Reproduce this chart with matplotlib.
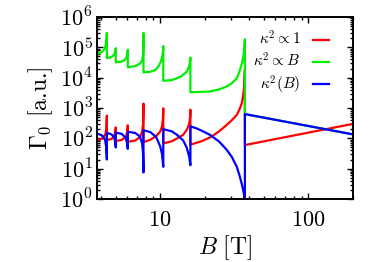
import numpy as np
import matplotlib
matplotlib.use('Agg')
from matplotlib import pyplot as plt
from matplotlib.ticker import LogLocator, FuncFormatter, NullFormatter

# values, segment by segment (drops are vertical)
b_red = [3.75, 4.1, 4.28, 4.34, 4.37,
         4.37, 4.7, 4.9, 4.98, 5.02,
         5.02, 5.5, 5.85, 5.98, 6.05,
         6.05, 6.8, 7.3, 7.55, 7.66, 7.72,
         7.72, 8.6, 9.4, 10.0, 10.3, 10.45, 10.5,
         10.5, 12.0, 13.0, 14.3, 15.2, 15.7, 15.93, 16.0,
         16.0, 19.0, 21.7, 25.0, 28.1, 30.5, 32.9, 34.3, 35.5, 36.2, 36.7, 37.0, 37.3,
         37.3, 200]
g_red = [85, 100, 140, 220, 560,
         88, 95, 120, 160, 230,
         82, 88, 110, 150, 270,
         77, 85, 110, 160, 280, 1400,
         75, 90, 120, 165, 250, 450, 980,
         68, 80, 100, 130, 200, 300, 500, 880,
         62, 80, 107, 170, 275, 400, 590, 900, 1400, 2400, 4000, 7000, 18000,
         60, 300]

b_green = [3.75, 4.0, 4.2, 4.3, 4.35, 4.37,
           4.37, 4.6, 4.8, 4.93, 4.99, 5.02,
           5.02, 5.4, 5.75, 5.95, 6.02, 6.05,
           6.05, 6.8, 7.3, 7.55, 7.66, 7.70, 7.72,
           7.72, 8.5, 9.3, 9.7, 10.0, 10.3, 10.45, 10.5,
           10.5, 12.0, 13.6, 15.0, 15.5, 15.85, 16.0,
           16.0, 21.7, 25.0, 28.1, 30.5, 32.9, 34.3, 35.5, 36.2, 36.7, 37.0, 37.3,
           37.3, 200]
g_green = [6.0e4, 6.8e4, 8.5e4, 1.2e5, 1.9e5, 3.0e5,
           4.4e4, 4.6e4, 5.2e4, 6.2e4, 7.5e4, 9.4e4,
           3.2e4, 3.3e4, 3.8e4, 4.8e4, 6.0e4, 8.3e4,
           2.2e4, 2.4e4, 2.9e4, 3.6e4, 5.5e4, 1.0e5, 3.0e5,
           1.5e4, 1.55e4, 1.8e4, 2.3e4, 3.0e4, 4.5e4, 7.0e4, 1.1e5,
           7.9e3, 8.3e3, 1.05e4, 1.5e4, 2.0e4, 3.0e4, 4.6e4,
           3.3e3, 3.5e3, 4.1e3, 5.1e3, 6.6e3, 9.6e3, 1.6e4, 2.8e4, 4.3e4, 6.5e4, 1.0e5, 1.85e5,
           630, 135]

b_blue = [3.75, 4.05, 4.25, 4.33, 4.37,
          4.37, 4.7, 4.9, 4.98, 5.02,
          5.02, 5.5, 5.85, 5.98, 6.05,
          6.05, 6.8, 7.3, 7.55, 7.66, 7.72,
          7.72, 8.6, 9.4, 10.0, 10.3, 10.5,
          10.5, 12.0, 13.0, 14.3, 15.1, 15.7, 16.0,
          16.0, 17.5, 19.0, 21.7, 25.0, 28.1, 30.5, 32.9, 34.3, 35.5, 36.2, 36.7, 37.0, 37.3,
          37.3, 200]
g_blue = [145, 125, 90, 50, 20,
          152, 135, 105, 75, 50,
          155, 140, 105, 70, 45,
          165, 150, 115, 70, 35, 7.5,
          185, 160, 110, 55, 30, 11.5,
          200, 170, 130, 85, 50, 25, 13,
          250, 215, 180, 130, 78, 42, 24, 11.5, 6.0, 3.2, 2.1, 1.5, 1.1, 0.5,
          630, 135]

labels = [r'$\kappa^2 \propto 1$', r'$\kappa^2 \propto B$', r'$\kappa^2(B)$']

plt.rcParams['mathtext.fontset'] = 'cm'
plt.rcParams['font.family'] = 'serif'

fig = plt.figure(figsize=(3.74, 2.62), dpi=100)
ax = fig.add_axes([97/374, 1 - 199/262, 256/374, 182/262])

lw = 1.6
ax.plot(b_red, g_red, color='#ff0000', lw=lw, label=labels[0])
ax.plot(b_green, g_green, color='#00ee00', lw=lw, label=labels[1])
ax.plot(b_blue, g_blue, color='#0000ff', lw=lw, label=labels[2])

ax.set_xscale('log')
ax.set_yscale('log')
ax.set_xlim(3.75, 200)
ax.set_ylim(1, 1e6)

ax.yaxis.set_major_locator(LogLocator(base=10, numticks=10))
ax.yaxis.set_minor_locator(LogLocator(base=10, subs=np.arange(2, 10), numticks=20))
ax.xaxis.set_major_locator(LogLocator(base=10, numticks=10))
ax.xaxis.set_minor_locator(LogLocator(base=10, subs=np.arange(2, 10), numticks=20))
ax.yaxis.set_major_formatter(FuncFormatter(lambda v, p: r'$10^{%d}$' % round(np.log10(v))))
ax.xaxis.set_major_formatter(FuncFormatter(lambda v, p: r'$%d$' % round(v)))
ax.xaxis.set_minor_formatter(NullFormatter())
ax.yaxis.set_minor_formatter(NullFormatter())

ax.tick_params(which='both', direction='in', top=True, right=True, width=1.0)
ax.tick_params(which='major', length=4.5)
ax.tick_params(which='minor', length=2.5)
ax.tick_params(axis='y', labelsize=16, pad=3)
ax.tick_params(axis='x', labelsize=16, pad=7)
for s in ax.spines.values():
    s.set_linewidth(1.4)

ax.set_xlabel(r'$B\ [\mathrm{T}]$', fontsize=17, labelpad=2)
ax.set_ylabel(r'$\Gamma_0$ [a.u.]', fontsize=17, labelpad=4, fontfamily='cmr10')

leg = ax.legend(loc='upper right', bbox_to_anchor=(0.905, 0.93), frameon=False,
                markerfirst=False, fontsize=11, handlelength=1.05,
                handletextpad=0.8, labelspacing=0.25, borderpad=0, borderaxespad=0)

fig.savefig('out.png', dpi=100)
